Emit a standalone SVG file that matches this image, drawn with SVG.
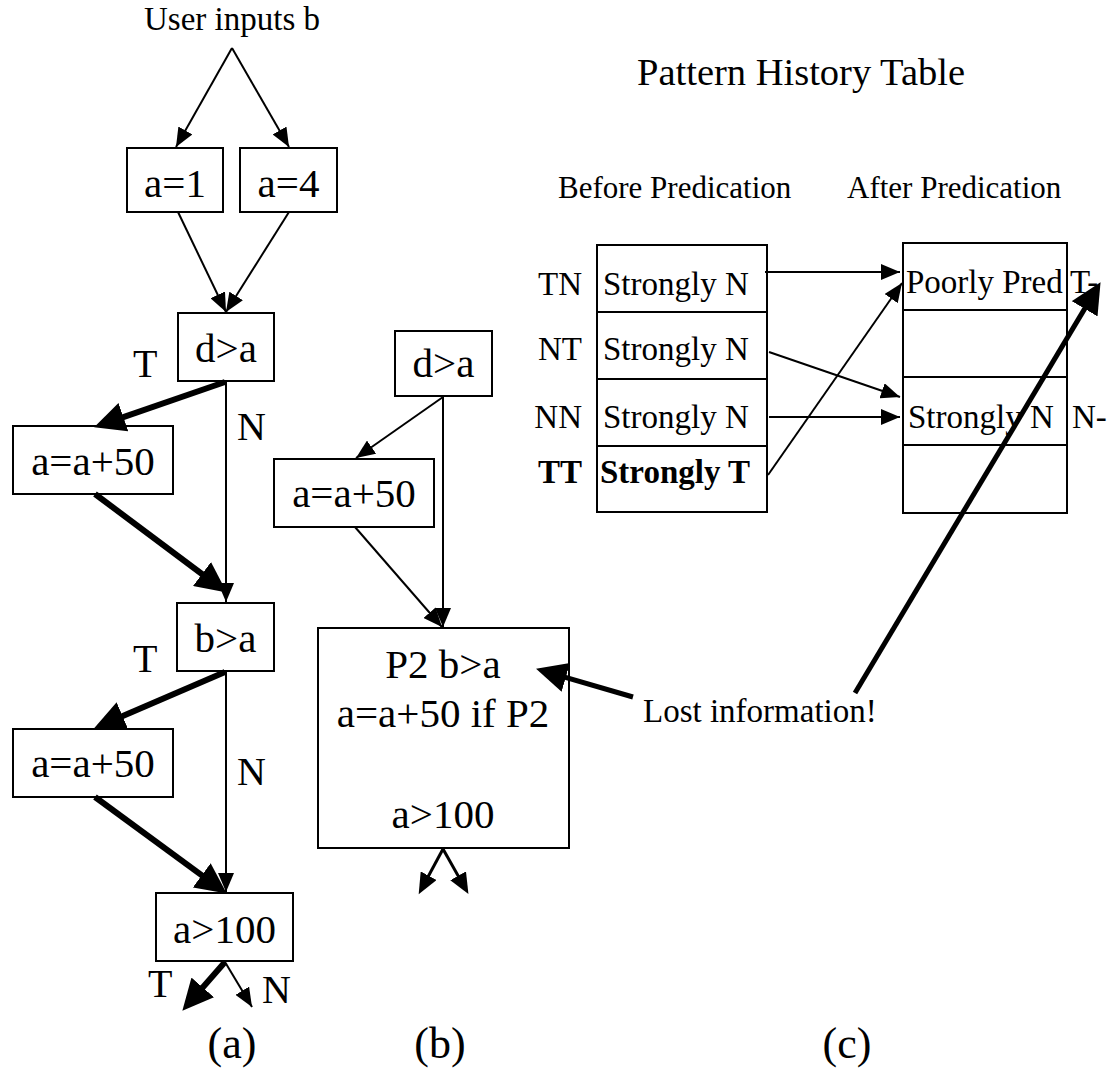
<svg xmlns="http://www.w3.org/2000/svg" width="1112" height="1071" viewBox="0 0 1112 1071" font-family="'Liberation Serif', 'DejaVu Serif', serif">
<style>
text{font-family:'Liberation Serif','DejaVu Serif',serif;fill:#000}
.big{font-size:41px}
.mid{font-size:33px}
.lbl{font-size:40px}
.cap{font-size:44px}
.box{fill:#fff;stroke:#000;stroke-width:2}
.thin{stroke:#000;stroke-width:2;fill:none}
.thick{stroke:#000;stroke-width:6;fill:none}
.thick5{stroke:#000;stroke-width:5;fill:none}
.med{stroke:#000;stroke-width:3;fill:none}
.bold{font-weight:bold}
</style>
<defs>
<marker id="ah" markerUnits="userSpaceOnUse" markerWidth="20" markerHeight="16" refX="19" refY="8" orient="auto"><path d="M0,0 L19,8 L0,16 z" fill="#000"/></marker>
<marker id="ahm" markerUnits="userSpaceOnUse" markerWidth="22" markerHeight="18" refX="14" refY="9" orient="auto"><path d="M0,0 L21,9 L0,18 z" fill="#000"/></marker>
<marker id="ahb" markerUnits="userSpaceOnUse" markerWidth="32" markerHeight="30" refX="20" refY="15" orient="auto"><path d="M0,0 L31,15 L0,30 z" fill="#000"/></marker>
</defs>

<g id="title-user"><text x="232" y="30" font-size="33" text-anchor="middle">User inputs b</text></g>

<g id="a-a1"><rect class="box" x="127" y="148" width="96" height="64"/><text class="big" x="175" y="197" text-anchor="middle">a=1</text></g>
<g id="a-a4"><rect class="box" x="240" y="148" width="97" height="64"/><text class="big" x="288.5" y="197" text-anchor="middle">a=4</text></g>
<g id="a-dga"><rect class="box" x="178" y="313" width="96" height="68"/><text class="big" x="226" y="362" text-anchor="middle">d&gt;a</text></g>
<g id="a-add1"><rect class="box" x="13" y="426" width="160" height="68"/><text class="big" x="93" y="475" text-anchor="middle">a=a+50</text></g>
<g id="a-bga"><rect class="box" x="177" y="603" width="97" height="68"/><text class="big" x="225.5" y="652" text-anchor="middle">b&gt;a</text></g>
<g id="a-add2"><rect class="box" x="13" y="729" width="160" height="68"/><text class="big" x="93" y="777" text-anchor="middle">a=a+50</text></g>
<g id="a-ag100"><rect class="box" x="156" y="893" width="137" height="68"/><text class="big" x="224.5" y="943" text-anchor="middle">a&gt;100</text></g>
<g id="a-labels">
  <text class="lbl" x="133" y="377">T</text>
  <text class="lbl" x="237" y="440">N</text>
  <text class="lbl" x="133" y="672">T</text>
  <text class="lbl" x="237" y="785">N</text>
  <text class="lbl" x="148" y="997">T</text>
  <text class="lbl" x="262" y="1003">N</text>
</g>

<g id="b-dga"><rect class="box" x="395" y="331" width="97" height="65"/><text class="big" x="443.5" y="377" text-anchor="middle">d&gt;a</text></g>
<g id="b-add"><rect class="box" x="274" y="459" width="160" height="68"/><text class="big" x="354" y="507" text-anchor="middle">a=a+50</text></g>
<g id="b-pred"><rect class="box" x="318" y="628" width="251" height="220"/>
  <text class="big" x="443" y="678" text-anchor="middle">P2 b&gt;a</text>
  <text class="big" x="443" y="727" text-anchor="middle">a=a+50 if P2</text>
  <text class="big" x="443" y="828" text-anchor="middle">a&gt;100</text>
</g>
<g id="lost"><text class="mid" x="643" y="722">Lost information!</text></g>

<g id="c-title"><text x="637" y="85" font-size="38.5">Pattern History Table</text></g>
<g id="c-before-title"><text x="558" y="198" font-size="31">Before Predication</text></g>
<g id="c-after-title"><text x="847" y="198" font-size="31">After Predication</text></g>

<g id="before-table">
  <rect class="box" x="597" y="245" width="170" height="267"/>
  <line class="thin" x1="597" y1="312" x2="767" y2="312"/>
  <line class="thin" x1="597" y1="379" x2="767" y2="379"/>
  <line class="thin" x1="597" y1="446" x2="767" y2="446"/>
  <text class="mid" x="603" y="295">Strongly N</text>
  <text class="mid" x="603" y="360">Strongly N</text>
  <text class="mid" x="603" y="428">Strongly N</text>
  <text class="mid bold" x="600" y="483">Strongly T</text>
  <text class="mid" x="582" y="295" text-anchor="end">TN</text>
  <text class="mid" x="582" y="360" text-anchor="end">NT</text>
  <text class="mid" x="582" y="428" text-anchor="end">NN</text>
  <text class="mid bold" x="582" y="483" text-anchor="end">TT</text>
</g>

<g id="after-table">
  <rect class="box" x="903" y="243" width="164" height="270"/>
  <line class="thin" x1="903" y1="310" x2="1067" y2="310"/>
  <line class="thin" x1="903" y1="377" x2="1067" y2="377"/>
  <line class="thin" x1="903" y1="445" x2="1067" y2="445"/>
  <text class="mid" x="906" y="293">Poorly Pred</text>
  <text class="mid" x="908" y="428">Strongly N</text>
  <text class="mid" x="1070" y="293">T-</text>
  <text class="mid" x="1072" y="428">N-</text>
</g>

<g id="captions">
  <text class="cap" x="232" y="1058" text-anchor="middle">(a)</text>
  <text class="cap" x="440" y="1058" text-anchor="middle">(b)</text>
  <text class="cap" x="847" y="1058" text-anchor="middle">(c)</text>
</g>

<g id="connectors">
  <line class="thin" x1="232" y1="48" x2="176" y2="147" marker-end="url(#ah)"/>
  <line class="thin" x1="232" y1="48" x2="289" y2="147" marker-end="url(#ah)"/>
  <line class="thin" x1="178" y1="212" x2="226" y2="312" marker-end="url(#ah)"/>
  <line class="thin" x1="289" y1="212" x2="226" y2="312" marker-end="url(#ah)"/>
  <line class="thick" x1="225" y1="382" x2="104.5" y2="423.7" marker-end="url(#ahb)"/>
  <line class="thin" x1="226" y1="382" x2="226" y2="602" marker-end="url(#ah)"/>
  <line class="thick" x1="95" y1="494" x2="218" y2="586" marker-end="url(#ahb)"/>
  <line class="thick" x1="225" y1="672" x2="104.2" y2="724" marker-end="url(#ahb)"/>
  <line class="thin" x1="226" y1="672" x2="226" y2="892" marker-end="url(#ah)"/>
  <line class="thick" x1="95" y1="797" x2="217.9" y2="887.1" marker-end="url(#ahb)"/>
  <line class="thick" x1="225" y1="962" x2="189.6" y2="1002.5" marker-end="url(#ahb)"/>
  <line class="thin" x1="225" y1="962" x2="252" y2="1007" marker-end="url(#ah)"/>
  <line class="thin" x1="443" y1="397" x2="356" y2="458" marker-end="url(#ah)"/>
  <line class="thin" x1="443" y1="397" x2="443" y2="627" marker-end="url(#ah)"/>
  <line class="thin" x1="355" y1="527" x2="442" y2="627" marker-end="url(#ah)"/>
  <line class="med" x1="443" y1="849" x2="422" y2="888" marker-end="url(#ahm)"/>
  <line class="med" x1="443" y1="849" x2="465" y2="888" marker-end="url(#ahm)"/>
  <line class="thin" x1="765" y1="272" x2="900" y2="272" marker-end="url(#ah)"/>
  <line class="thin" x1="769" y1="352" x2="900" y2="397" marker-end="url(#ah)"/>
  <line class="thin" x1="769" y1="417" x2="900" y2="417" marker-end="url(#ah)"/>
  <line class="thin" x1="768" y1="475" x2="902" y2="283" marker-end="url(#ah)"/>
  <line class="thick5" x1="633" y1="697" x2="546.6" y2="671.8" marker-end="url(#ahb)"/>
  <line class="thick5" x1="855" y1="693" x2="1094.9" y2="291.6" marker-end="url(#ahb)"/>
</g>
</svg>
